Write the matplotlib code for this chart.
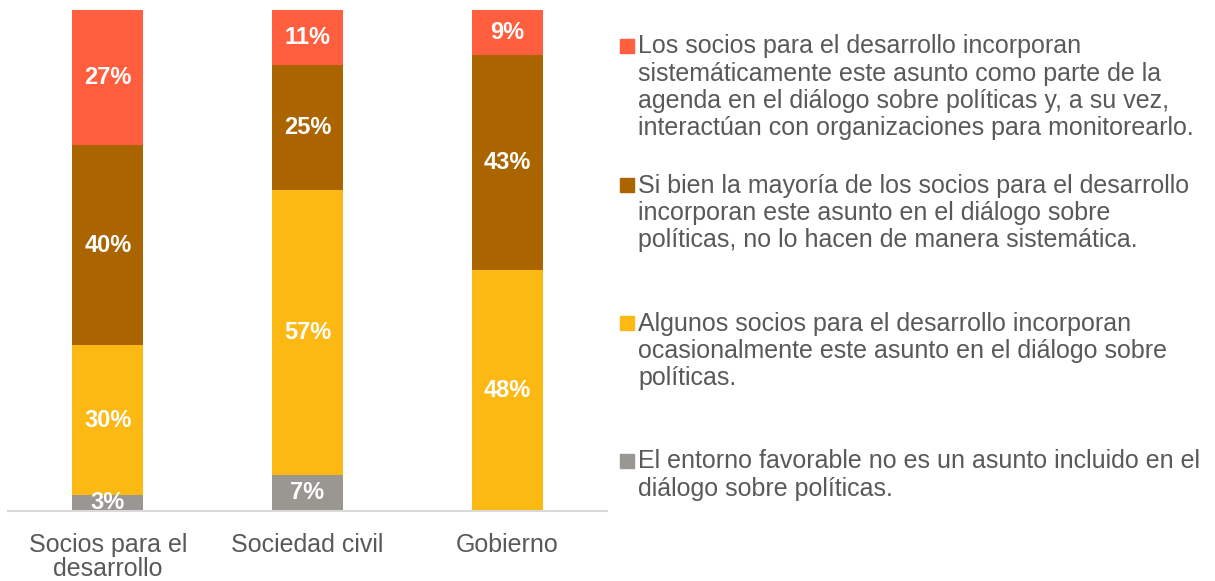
import matplotlib.pyplot as plt
from matplotlib.patches import Rectangle

plt.rcParams['font.family'] = ['Liberation Sans', 'DejaVu Sans']

categories = ["Socios para el\ndesarrollo", "Sociedad civil", "Gobierno"]
no_incluido = [3, 7, 0]
ocasional = [30, 57, 48]
no_sistematico = [40, 25, 43]
sistematico = [27, 11, 9]

series = [no_incluido, ocasional, no_sistematico, sistematico]
colors = ["#9A9792", "#FCB813", "#AA6500", "#FF5F3F"]
legend_labels = [
    "Los socios para el desarrollo incorporan\nsistemáticamente este asunto como parte de la\n"
    "agenda en el diálogo sobre políticas y, a su vez,\ninteractúan con organizaciones para monitorearlo.",
    "Si bien la mayoría de los socios para el desarrollo\nincorporan este asunto en el diálogo sobre\n"
    "políticas, no lo hacen de manera sistemática.",
    "Algunos socios para el desarrollo incorporan\nocasionalmente este asunto en el diálogo sobre\npolíticas.",
    "El entorno favorable no es un asunto incluido en el\ndiálogo sobre políticas.",
]
legend_colors = ["#FF5F3F", "#AA6500", "#FCB813", "#9A9792"]

W, H = 1215, 581
fig = plt.figure(figsize=(W / 100, H / 100), dpi=100)
ax = fig.add_axes([8 / W, (H - 510.5) / H, 599 / W, 500.5 / H])

x = range(len(categories))
bottom = [0, 0, 0]
for vals, col in zip(series, colors):
    ax.bar(x, vals, width=0.355, bottom=bottom, color=col, edgecolor="none")
    for i, v in enumerate(vals):
        if v > 0:
            ax.text(i, bottom[i] + v / 2, f"{v}%", ha="center", va="center",
                    color="white", fontsize=17, fontweight="bold")
    bottom = [b + v for b, v in zip(bottom, vals)]

ax.set_xlim(-0.5, 2.5)
ax.set_ylim(0, 100)
for s in ["top", "right", "left"]:
    ax.spines[s].set_visible(False)
ax.spines["bottom"].set_color("#D9D9D9")
ax.spines["bottom"].set_linewidth(1.5)
ax.set_yticks([])
ax.set_xticks(list(x))
ax.set_xticklabels(categories, fontsize=18, color="#595959", linespacing=1.0)
ax.tick_params(axis="x", length=0, pad=16)

# legend on the right
baselines = [53, 192, 330, 468]
for lab, col, b in zip(legend_labels, legend_colors, baselines):
    fig.patches.append(Rectangle((620 / W, 1 - b / H), 14 / W, 14 / H,
                                 transform=fig.transFigure, color=col))
    fig.text(638 / W, 1 - (b - 18.5) / H, lab, ha="left", va="top", fontsize=18,
             color="#595959", linespacing=1.165)

fig.savefig("out.png", dpi=100)
